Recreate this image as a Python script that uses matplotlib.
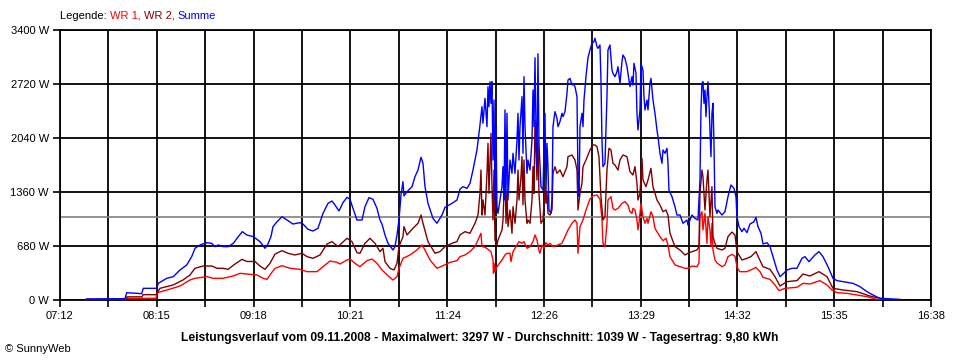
import matplotlib
matplotlib.use("Agg")
import numpy as np
import matplotlib.pyplot as plt
from matplotlib.offsetbox import TextArea, HPacker, AnchoredOffsetbox

plt.rcParams['font.family'] = ['Liberation Sans', 'DejaVu Sans']

wr1 = [
    ("07:28:54", 4), ("07:54:53", 6), ("07:55:32", 20), ("08:14:23", 22), ("08:15:02", 92),
    ("08:21:32", 126), ("08:29:59", 176), ("08:36:28", 252), ("08:39:43", 273), ("08:47:31", 294),
    ("08:51:25", 273), ("08:57:55", 273), ("09:04:25", 302), ("09:08:58", 336), ("09:13:31", 327),
    ("09:20:01", 315), ("09:23:55", 273), ("09:26:31", 260), ("09:29:46", 350), ("09:31:43", 399),
    ("09:36:16", 432), ("09:41:27", 399), ("09:47:57", 386), ("09:52:30", 357), ("09:59:00", 357),
    ("10:02:54", 420), ("10:07:27", 491), ("10:12:00", 474), ("10:13:56", 453), ("10:18:29", 504),
    ("10:20:26", 516), ("10:23:41", 462), ("10:26:56", 420), ("10:31:29", 495), ("10:34:44", 516),
    ("10:37:59", 462), ("10:41:14", 378), ("10:45:08", 306), ("10:48:23", 252), ("10:50:59", 294),
    ("10:52:17", 399), ("10:54:53", 525), ("10:59:26", 567), ("11:03:59", 630), ("11:07:14", 693),
    ("11:09:11", 630), ("11:12:26", 504), ("11:16:58", 399), ("11:20:52", 432), ("11:25:25", 474),
    ("11:29:58", 495), ("11:31:55", 546), ("11:35:10", 567), ("11:38:25", 609), ("11:41:40", 672),
    ("11:43:37", 756), ("11:45:34", 840), ("11:46:13", 672), ("11:48:10", 665), ("11:50:07", 638),
    ("11:52:04", 609), ("11:53:22", 504), ("11:53:41", 336), ("11:54:01", 462), ("11:54:40", 357),
    ("11:55:58", 420), ("11:59:13", 504), ("12:01:10", 567), ("12:02:28", 588), ("12:04:25", 588),
    ("12:05:04", 483), ("12:06:22", 609), ("12:08:58", 693), ("12:10:16", 735), ("12:12:13", 714),
    ("12:13:31", 735), ("12:15:28", 651), ("12:17:25", 672), ("12:19:22", 735), ("12:20:40", 819),
    ("12:21:57", 756), ("12:23:15", 622), ("12:23:54", 588), ("12:25:12", 693), ("12:26:30", 651),
    ("12:27:48", 722), ("12:29:06", 693), ("12:30:24", 714), ("12:32:21", 672), ("12:35:36", 693),
    ("12:38:12", 714), ("12:40:09", 798), ("12:42:06", 882), ("12:44:42", 966), ("12:46:39", 1007),
    ("12:47:57", 966), ("12:48:36", 588), ("12:49:54", 924), ("12:51:51", 1007), ("12:53:48", 1133),
    ("12:56:23", 1270), ("12:58:20", 1312), ("13:00:56", 1322), ("13:02:53", 1270), ("13:04:11", 1020),
    ("13:04:50", 714), ("13:06:08", 672), ("13:07:26", 966), ("13:08:05", 1259), ("13:10:02", 1301),
    ("13:11:20", 1154), ("13:12:38", 1133), ("13:14:35", 1154), ("13:17:11", 1217), ("13:19:08", 1238),
    ("13:21:05", 1196), ("13:22:23", 1112), ("13:23:41", 1091), ("13:24:20", 1154), ("13:25:38", 1133),
    ("13:26:56", 1007), ("13:27:35", 882), ("13:28:14", 966), ("13:29:32", 1217), ("13:30:50", 1049),
    ("13:32:08", 966), ("13:33:26", 1028), ("13:34:05", 966), ("13:36:02", 1112), ("13:37:20", 1049),
    ("13:38:38", 903), ("13:39:56", 861), ("13:41:53", 798), ("13:43:50", 747), ("13:45:47", 777),
    ("13:47:05", 693), ("13:48:23", 546), ("13:51:38", 441), ("13:54:53", 420), ("13:58:08", 399),
    ("14:00:04", 399), ("14:02:40", 428), ("14:05:55", 420), ("14:07:13", 466), ("14:07:52", 1049),
    ("14:09:10", 1112), ("14:09:49", 882), ("14:11:07", 1091), ("14:12:25", 714), ("14:13:04", 1049),
    ("14:14:22", 882), ("14:15:01", 672), ("14:15:40", 966), ("14:16:19", 630), ("14:17:37", 504),
    ("14:18:55", 466), ("14:22:10", 420), ("14:24:07", 441), ("14:26:04", 546), ("14:28:40", 575),
    ("14:30:37", 550), ("14:31:55", 420), ("14:33:13", 370), ("14:33:52", 357), ("14:38:25", 357),
    ("14:41:40", 386), ("14:44:16", 411), ("14:46:52", 357), ("14:48:49", 285), ("14:53:22", 260),
    ("14:56:37", 189), ("14:59:13", 118), ("15:03:07", 147), ("15:10:54", 160), ("15:14:48", 210),
    ("15:19:21", 202), ("15:25:51", 244), ("15:30:24", 189), ("15:33:39", 126), ("15:36:53", 92),
    ("15:43:23", 84), ("15:49:53", 63), ("15:56:23", 42), ("16:02:53", 8), ("16:06:08", 0),
]

wr2 = [
    ("07:28:54", 8), ("07:54:53", 8), ("07:55:32", 40), ("08:05:17", 40), ("08:05:56", 67),
    ("08:14:23", 67), ("08:16:59", 147), ("08:25:26", 189), ("08:31:56", 252), ("08:36:28", 315),
    ("08:39:43", 399), ("08:44:55", 428), ("08:50:46", 428), ("08:54:01", 399), ("08:57:55", 399),
    ("09:01:10", 386), ("09:05:43", 453), ("09:10:16", 512), ("09:13:31", 485), ("09:18:43", 485),
    ("09:21:58", 428), ("09:25:13", 386), ("09:28:28", 462), ("09:31:43", 579), ("09:36:16", 621),
    ("09:40:09", 588), ("09:44:42", 567), ("09:49:15", 588), ("09:52:30", 546), ("09:56:24", 525),
    ("10:00:57", 567), ("10:05:30", 705), ("10:08:45", 735), ("10:12:38", 672), ("10:18:29", 777),
    ("10:21:44", 735), ("10:24:59", 596), ("10:26:56", 588), ("10:30:11", 714), ("10:33:26", 777),
    ("10:36:41", 714), ("10:39:56", 609), ("10:41:53", 651), ("10:43:11", 483), ("10:46:26", 399),
    ("10:49:02", 378), ("10:50:59", 462), ("10:52:17", 672), ("10:54:53", 798), ("10:55:32", 924),
    ("10:57:29", 819), ("11:01:23", 903), ("11:04:38", 966), ("11:06:35", 1070), ("11:07:53", 966),
    ("11:11:08", 735), ("11:15:41", 588), ("11:18:55", 609), ("11:22:10", 672), ("11:26:43", 714),
    ("11:29:58", 735), ("11:31:55", 819), ("11:35:10", 861), ("11:38:25", 840), ("11:41:40", 966),
    ("11:43:37", 1070), ("11:44:55", 1343), ("11:45:34", 1637), ("11:46:13", 1070), ("11:46:52", 1259),
    ("11:48:10", 1070), ("11:49:28", 1595), ("11:50:07", 1973), ("11:50:46", 1343), ("11:52:04", 2099),
    ("11:52:43", 1427), ("11:53:22", 1007), ("11:54:01", 1637), ("11:54:40", 756), ("11:55:58", 693),
    ("11:56:37", 756), ("11:59:13", 882), ("11:59:52", 1007), ("12:01:10", 1679), ("12:01:49", 966),
    ("12:02:28", 1343), ("12:03:07", 924), ("12:04:25", 1133), ("12:05:43", 840), ("12:06:22", 1175),
    ("12:07:40", 966), ("12:08:58", 1259), ("12:09:37", 1637), ("12:10:16", 1259), ("12:11:34", 1553),
    ("12:12:13", 1805), ("12:12:52", 1200), ("12:13:31", 1763), ("12:14:10", 1259), ("12:15:28", 966),
    ("12:16:07", 1007), ("12:17:25", 966), ("12:18:43", 1259), ("12:19:22", 1679), ("12:20:01", 1343),
    ("12:20:40", 2267), ("12:21:57", 1511), ("12:22:36", 2015), ("12:23:15", 1343), ("12:24:33", 966),
    ("12:25:51", 1007), ("12:27:09", 1427), ("12:27:48", 1217), ("12:28:27", 1364), ("12:29:06", 1091),
    ("12:30:24", 1070), ("12:31:42", 1133), ("12:32:21", 1595), ("12:33:39", 1679), ("12:34:57", 1595),
    ("12:36:54", 1637), ("12:38:51", 1553), ("12:41:27", 1679), ("12:42:06", 1805), ("12:44:42", 1826),
    ("12:46:39", 1763), ("12:47:57", 1637), ("12:48:36", 1133), ("12:49:54", 1343), ("12:51:12", 1469),
    ("12:51:51", 1679), ("12:53:48", 1763), ("12:55:05", 1826), ("12:56:23", 1889), ("12:58:20", 1952),
    ("12:59:38", 1952), ("13:00:56", 1931), ("13:02:14", 1805), ("13:03:32", 1301), ("13:04:50", 1007),
    ("13:06:08", 1049), ("13:07:26", 1637), ("13:08:44", 1910), ("13:10:02", 1889), ("13:11:20", 1721),
    ("13:12:38", 1700), ("13:14:35", 1637), ("13:15:53", 1763), ("13:17:50", 1826), ("13:20:26", 1805),
    ("13:22:23", 1616), ("13:24:20", 1574), ("13:25:38", 1679), ("13:26:56", 1469), ("13:27:35", 1259),
    ("13:28:53", 1343), ("13:30:11", 1784), ("13:30:50", 1511), ("13:32:47", 1427), ("13:34:05", 1511),
    ("13:36:02", 1658), ("13:37:20", 1427), ("13:39:56", 1259), ("13:41:53", 1196), ("13:43:50", 1112),
    ("13:45:47", 1133), ("13:47:05", 1070), ("13:48:23", 840), ("13:51:38", 672), ("13:54:53", 630),
    ("13:58:08", 567), ("14:00:04", 588), ("14:02:40", 609), ("14:05:55", 630), ("14:07:13", 672),
    ("14:07:52", 1343), ("14:09:10", 1637), ("14:09:49", 1553), ("14:11:07", 1133), ("14:12:25", 1511),
    ("14:13:04", 1637), ("14:14:22", 1049), ("14:15:40", 1427), ("14:16:19", 798), ("14:17:37", 714),
    ("14:18:55", 651), ("14:22:10", 630), ("14:24:07", 651), ("14:26:04", 798), ("14:28:40", 855),
    ("14:30:37", 819), ("14:31:55", 609), ("14:35:10", 504), ("14:38:25", 525), ("14:41:01", 546),
    ("14:44:16", 609), ("14:46:13", 525), ("14:48:49", 420), ("14:53:22", 386), ("14:56:37", 294),
    ("14:59:52", 176), ("15:04:24", 231), ("15:10:54", 244), ("15:14:48", 327), ("15:19:21", 302),
    ("15:25:12", 357), ("15:30:24", 294), ("15:34:18", 147), ("15:40:47", 126), ("15:49:53", 105),
    ("15:58:20", 50), ("16:04:50", 21), ("16:09:23", 8), ("16:14:35", 0),
]

summe = [
    ("07:29:21", 13), ("07:54:14", 17), ("07:55:20", 92), ("08:05:05", 80), ("08:06:08", 147),
    ("08:14:50", 147), ("08:15:53", 210), ("08:21:20", 273), ("08:25:37", 294), ("08:29:59", 378),
    ("08:34:20", 441), ("08:37:35", 546), ("08:39:43", 651), ("08:42:58", 693), ("08:47:20", 722),
    ("08:50:34", 714), ("08:52:43", 672), ("08:54:52", 693), ("08:58:07", 672), ("09:01:22", 672),
    ("09:04:37", 714), ("09:07:52", 798), ("09:10:28", 861), ("09:13:19", 819), ("09:17:37", 798),
    ("09:21:58", 735), ("09:25:13", 651), ("09:27:21", 714), ("09:29:07", 800), ("09:30:25", 924),
    ("09:33:01", 986), ("09:36:16", 1049), ("09:39:30", 1007), ("09:43:24", 957), ("09:47:57", 974),
    ("09:49:54", 957), ("09:53:09", 890), ("09:56:24", 869), ("09:59:39", 903), ("10:02:54", 1091),
    ("10:06:09", 1217), ("10:08:45", 1247), ("10:10:42", 1196), ("10:13:17", 1121), ("10:15:53", 1226),
    ("10:18:29", 1293), ("10:20:26", 1268), ("10:22:23", 1154), ("10:24:59", 1007), ("10:28:14", 1007),
    ("10:30:11", 1175), ("10:32:47", 1289), ("10:35:23", 1268), ("10:37:59", 1154), ("10:39:56", 1007),
    ("10:41:14", 957), ("10:43:11", 819), ("10:45:08", 714), ("10:48:23", 630), ("10:49:41", 672),
    ("10:50:59", 819), ("10:52:17", 1007), ("10:53:35", 1322), ("10:54:53", 1490), ("10:55:32", 1310),
    ("10:57:29", 1364), ("11:00:44", 1427), ("11:02:41", 1553), ("11:04:38", 1637), ("11:06:35", 1797),
    ("11:07:53", 1721), ("11:09:11", 1427), ("11:11:08", 1217), ("11:14:23", 1028), ("11:16:58", 966),
    ("11:20:13", 1070), ("11:22:10", 1167), ("11:26:43", 1217), ("11:29:58", 1259), ("11:31:55", 1395),
    ("11:33:52", 1427), ("11:36:28", 1406), ("11:38:25", 1469), ("11:40:22", 1637), ("11:42:58", 1889),
    ("11:44:55", 2204), ("11:46:13", 2434), ("11:46:52", 2225), ("11:48:10", 2540), ("11:49:28", 2183),
    ("11:50:07", 2686), ("11:50:46", 2434), ("11:51:25", 2749), ("11:52:04", 2477), ("11:52:43", 2749),
    ("11:53:22", 1763), ("11:54:01", 2519), ("11:54:40", 1259), ("11:55:19", 2183), ("11:55:58", 1175),
    ("11:56:37", 1091), ("11:57:55", 1259), ("11:59:13", 1427), ("11:59:52", 1679), ("12:00:31", 1259),
    ("12:01:10", 2393), ("12:01:49", 1343), ("12:02:28", 2351), ("12:03:07", 1259), ("12:04:25", 1763),
    ("12:05:43", 1595), ("12:06:22", 1847), ("12:07:40", 1595), ("12:08:58", 2015), ("12:09:37", 2351),
    ("12:10:16", 1763), ("12:10:55", 2183), ("12:12:13", 2561), ("12:12:52", 1847), ("12:13:31", 2812),
    ("12:14:10", 2183), ("12:15:28", 1595), ("12:16:07", 1763), ("12:17:25", 1637), ("12:18:43", 2015),
    ("12:19:22", 2645), ("12:20:01", 2183), ("12:20:40", 3050), ("12:21:18", 2183), ("12:21:57", 1679),
    ("12:22:36", 3100), ("12:23:15", 1973), ("12:24:33", 1427), ("12:25:51", 1385), ("12:27:09", 2351),
    ("12:27:48", 1343), ("12:28:27", 1973), ("12:29:06", 1679), ("12:29:45", 1133), ("12:31:03", 1091),
    ("12:31:42", 1259), ("12:32:21", 2183), ("12:33:39", 2372), ("12:34:57", 2288), ("12:35:36", 2183),
    ("12:36:54", 2246), ("12:38:12", 2351), ("12:38:51", 2309), ("12:40:09", 2372), ("12:41:27", 2603),
    ("12:42:06", 2770), ("12:43:24", 2791), ("12:44:42", 2707), ("12:45:21", 2728), ("12:46:39", 2686),
    ("12:47:57", 2561), ("12:48:36", 1553), ("12:49:15", 1301), ("12:49:54", 2183), ("12:51:12", 2351),
    ("12:51:51", 2183), ("12:52:30", 2519), ("12:53:48", 2812), ("12:55:05", 3050), ("12:56:23", 3148),
    ("12:57:41", 3232), ("12:58:59", 3253), ("12:59:38", 3297), ("13:00:56", 3190), ("13:01:35", 3169),
    ("13:02:53", 3211), ("13:03:32", 2770), ("13:04:11", 2015), ("13:04:50", 1679), ("13:06:08", 1721),
    ("13:07:26", 2561), ("13:08:05", 3148), ("13:09:23", 3211), ("13:10:41", 2896), ("13:11:20", 2854),
    ("13:12:38", 2812), ("13:13:56", 2875), ("13:14:35", 2938), ("13:15:53", 2728), ("13:17:11", 3001),
    ("13:17:50", 3085), ("13:19:08", 3043), ("13:20:26", 2938), ("13:21:05", 2854), ("13:22:23", 2686),
    ("13:23:41", 2812), ("13:24:20", 2707), ("13:24:59", 2980), ("13:26:17", 2854), ("13:26:56", 2351),
    ("13:27:35", 2141), ("13:28:14", 2267), ("13:28:53", 2393), ("13:29:32", 2980), ("13:30:50", 2896),
    ("13:31:29", 2561), ("13:32:08", 2393), ("13:33:26", 2519), ("13:34:05", 2393), ("13:35:23", 2728),
    ("13:36:02", 2791), ("13:37:20", 2519), ("13:38:38", 2351), ("13:39:56", 2141), ("13:40:35", 2057),
    ("13:41:53", 1847), ("13:43:11", 1721), ("13:43:50", 1889), ("13:45:08", 1847), ("13:46:26", 1910),
    ("13:47:05", 1721), ("13:47:44", 1385), ("13:49:41", 1301), ("13:51:38", 1175), ("13:52:56", 1070),
    ("13:54:53", 1070), ("13:56:50", 966), ("13:59:25", 1007), ("14:00:04", 944), ("14:02:40", 1070),
    ("14:04:37", 1028), ("14:06:34", 1007), ("14:07:52", 1511), ("14:08:31", 2393), ("14:09:10", 2728),
    ("14:09:49", 2749), ("14:10:28", 2477), ("14:11:07", 2645), ("14:11:46", 2309), ("14:12:25", 2561),
    ("14:13:04", 2749), ("14:13:43", 2477), ("14:15:01", 1805), ("14:15:40", 2351), ("14:16:19", 2477),
    ("14:16:58", 1973), ("14:17:37", 1175), ("14:18:55", 1091), ("14:19:34", 1133), ("14:22:10", 1070),
    ("14:24:07", 1112), ("14:26:04", 1301), ("14:28:01", 1448), ("14:29:58", 1406), ("14:31:16", 1300),
    ("14:31:55", 1049), ("14:33:13", 924), ("14:35:10", 861), ("14:36:28", 903), ("14:38:25", 848),
    ("14:40:22", 957), ("14:42:58", 986), ("14:44:16", 1041), ("14:45:34", 924), ("14:47:31", 840),
    ("14:48:49", 705), ("14:51:25", 722), ("14:53:22", 672), ("14:55:19", 546), ("14:57:55", 378),
    ("14:59:52", 294), ("15:01:49", 327), ("15:04:24", 378), ("15:07:39", 399), ("15:10:54", 399),
    ("15:14:09", 525), ("15:16:06", 546), ("15:18:42", 483), ("15:22:36", 567), ("15:25:12", 609),
    ("15:27:48", 546), ("15:31:03", 420), ("15:34:18", 273), ("15:36:53", 244), ("15:40:47", 231),
    ("15:47:17", 210), ("15:51:50", 168), ("15:56:23", 105), ("16:00:17", 63), ("16:04:50", 21),
    ("16:09:23", 17), ("16:17:50", 8),
]

x_labels = ["07:12", "08:15", "09:18", "10:21", "11:24", "12:26", "13:29", "14:32", "15:35", "16:38"]
y_ticks = [0, 680, 1360, 2040, 2720, 3400]
average_w = 1039
title = ("Leistungsverlauf vom 09.11.2008 - Maximalwert: 3297 W - "
         "Durchschnitt: 1039 W - Tagesertrag: 9,80 kWh")

RED = "#ff0000"
DARKRED = "#800000"
BLUE = "#0000ff"


def to_min(s):
    parts = [int(p) for p in s.split(":")]
    while len(parts) < 3:
        parts.append(0)
    return parts[0] * 60 + parts[1] + parts[2] / 60.0


def series(pairs):
    t = np.array([to_min(p[0]) for p in pairs])
    w = np.array([p[1] for p in pairs], dtype=float)
    return t, w


fig = plt.figure(figsize=(9.6, 3.6), dpi=100)
ax = fig.add_axes([60 / 960, 60 / 360, 871 / 960, 270 / 360])

x0, x1 = to_min(x_labels[0]), to_min(x_labels[-1])
grid = np.linspace(x0, x1, 2 * len(x_labels) - 1)
ax.set_xlim(x0, x1)
ax.set_ylim(0, y_ticks[-1])
ax.set_xticks(grid)
ax.set_xticklabels([x_labels[i // 2] if i % 2 == 0 else "" for i in range(len(grid))])
ax.set_yticks(y_ticks)
ax.set_yticklabels([f"{v} W" for v in y_ticks])
ax.tick_params(direction="out", length=5, width=1.2, labelsize=8, colors="black", pad=3)
ax.grid(True, color="black", lw=1.3)
ax.set_axisbelow(True)
for sp in ax.spines.values():
    sp.set_linewidth(1.3)

ax.axhline(average_w, color="#808080", lw=1.2, zorder=1.5)

for data, col in [(wr1, RED), (wr2, DARKRED), (summe, BLUE)]:
    t, w = series(data)
    ax.plot(t, w, color=col, lw=1.0, zorder=3)

# coloured legend line at the top
parts = [("Legende: ", "black"), ("WR 1, ", RED), ("WR 2, ", DARKRED), ("Summe", BLUE)]
boxes = [TextArea(s, textprops=dict(color=c, size=8)) for s, c in parts]
pack = HPacker(children=boxes, align="baseline", pad=0, sep=0)
anch = AnchoredOffsetbox(loc="center left", child=pack, pad=0, frameon=False, borderpad=0,
                         bbox_to_anchor=(60 / 960, 1 - 16 / 360), bbox_transform=fig.transFigure)
fig.add_artist(anch)

fig.text(0.5, 1 - 338 / 360, title, ha="center", va="center", fontsize=8.7, fontweight="bold")
fig.text(5 / 960, 1 - 349 / 360, "\u00a9 SunnyWeb", ha="left", va="center", fontsize=8)

fig.savefig("out.png", dpi=100)
